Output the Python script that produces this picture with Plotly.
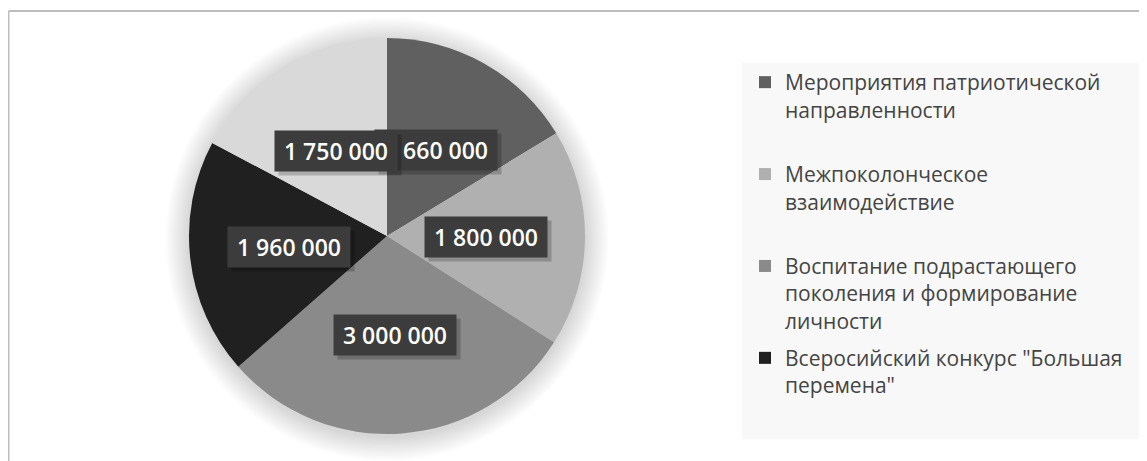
import math
import plotly.graph_objects as go

# ---- data ----
categories = [
    "Мероприятия патриотической направленности",
    "Межпоколонческое взаимодействие",
    "Воспитание подрастающего поколения и формирование личности",
    "Всеросийский конкурс \"Большая перемена\"",
    "Прочее",
]
values = [1660000, 1800000, 3000000, 1960000, 1750000]
colors = ["#606060", "#b0b0b0", "#8a8a8a", "#202020", "#d9d9d9"]
legend_labels = [
    "Мероприятия патриотической<br>направленности<br>\u00a0",
    "Межпоколонческое<br>взаимодействие<br>\u00a0",
    "Воспитание подрастающего<br>поколения и формирование<br>личности",
    "Всеросийский конкурс \"Большая<br>перемена\"",
]

# page body has an 8px margin, so the figure is drawn 8px in from the corner
OFF = 8
W, H = 1147 - OFF, 461 - OFF
CX, CY, R = 387 - OFF, 236 - OFF, 198  # pie centre / radius in px


def px(x):
    return (x - OFF) / W


def py(y):
    return 1 - (y - OFF) / H


def fmt(v):
    return f"{v:,}".replace(",", " ")


fig = go.Figure()

# soft shadow behind pie
N = 20
for i in range(N):
    rr = R + 24 - i * 24 / N
    fig.add_shape(type="circle", xref="paper", yref="paper",
                  x0=(CX - rr) / W, x1=(CX + rr) / W,
                  y0=1 - (CY + 3 + rr) / H, y1=1 - (CY + 3 - rr) / H,
                  fillcolor="rgba(0,0,0,0.008)", line=dict(width=0), layer="below")

fig.add_trace(go.Pie(
    labels=categories, values=values, sort=False, direction="clockwise",
    rotation=0, marker=dict(colors=colors, line=dict(width=0)),
    textinfo="none", hoverinfo="label+value", showlegend=False,
    domain=dict(x=[(CX - R) / W, (CX + R) / W], y=[1 - (CY + R) / H, 1 - (CY - R) / H]),
))

# legend via dummy traces (first four categories only, as in the source)
for i, (lab, col) in enumerate(zip(legend_labels, colors[:4])):
    fig.add_trace(go.Scatter(x=[None], y=[None], mode="markers", name=lab,
                             legendgroup=f"g{i}",
                             marker=dict(symbol="square", size=11, color=col)))

# legend background panel
fig.add_shape(type="rect", xref="paper", yref="paper",
              x0=px(742), x1=1.0, y0=py(439), y1=py(63),
              fillcolor="#f8f8f8", line=dict(width=0), layer="below")

# frame lines (top and left)
fig.add_shape(type="line", xref="paper", yref="paper", x0=0.5 / W, x1=1.0,
              y0=py(11), y1=py(11), line=dict(color="#bdbdbd", width=2))
fig.add_shape(type="line", xref="paper", yref="paper", x0=0.5 / W, x1=0.5 / W,
              y0=0, y1=py(11), line=dict(color="#bdbdbd", width=2))

# data labels at half radius along each slice's mid-angle
total = sum(values)
cum = 0
for v in values:
    mid = (cum + v / 2) / total * 2 * math.pi
    cum += v
    lx = CX + 0.5 * R * math.sin(mid)
    ly = CY - 0.5 * R * math.cos(mid)
    common = dict(x=lx / W, y=1 - ly / H, xref="paper", yref="paper",
                  xanchor="center", yanchor="middle", showarrow=False,
                  width=114, height=32, borderpad=4)
    fig.add_annotation(text=" ", bgcolor="rgba(0,0,0,0.2)", xshift=4, yshift=-4, **common)
    fig.add_annotation(text=fmt(v), bgcolor="#3c3c3c",
                       font=dict(family="Open Sans", size=23, color="white", weight=600),
                       **common)

fig.update_layout(
    width=W, height=H, margin=dict(l=0, r=0, t=0, b=0),
    paper_bgcolor="white", plot_bgcolor="rgba(0,0,0,0)",
    xaxis=dict(visible=False), yaxis=dict(visible=False),
    legend=dict(x=px(745), y=py(62), xanchor="left", yanchor="top",
                bgcolor="rgba(0,0,0,0)", valign="top", tracegroupgap=7,
                itemsizing="constant",
                font=dict(family="Open Sans", size=21, color="#444444")),
)

fig.write_html("out.html")
